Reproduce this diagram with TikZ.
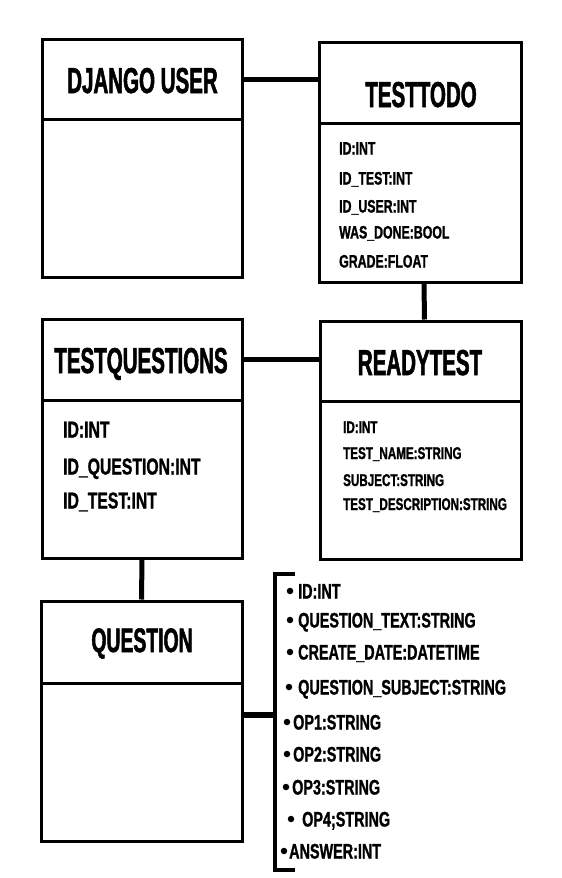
\documentclass[tikz,border=0pt]{standalone}
\usepackage{fontspec}
\newfontfamily\titlefont{Liberation Sans}[FakeStretch=0.57,FakeBold=1.5]
\newfontfamily\attrfont{Liberation Sans}[FakeStretch=0.685,FakeBold=1.2]
\tikzset{
  box/.style={draw=black, line width=3pt, rectangle, inner sep=0pt, minimum width=200pt},
  hdr/.style={box, minimum height=81pt},
  bdy/.style={box},
  ttl/.style={anchor=base, inner sep=0pt, font=\titlefont\bfseries\fontsize{36}{36}\selectfont},
  attrA/.style={anchor=base west, inner sep=0pt, font=\attrfont\bfseries\fontsize{18}{18}\selectfont},
  attrB/.style={anchor=base west, inner sep=0pt, font=\attrfont\bfseries\fontsize{23}{23}\selectfont},
  attrC/.style={anchor=base west, inner sep=0pt, font=\attrfont\bfseries\fontsize{17}{17}\selectfont},
  item/.style={anchor=base west, inner sep=0pt, font=\attrfont\bfseries\fontsize{21}{21}\selectfont},
  dot/.style={circle, fill=black, inner sep=0pt, minimum size=6.5pt},
  link/.style={line width=5pt, draw=black},
}
\begin{document}
\begin{tikzpicture}[x=1pt,y=-1pt]
\useasboundingbox (0,0) rectangle (562,878);
% Django user
\node[hdr, minimum height=80pt] (djh) at (142,79) {};
\node[bdy, minimum height=158pt] (djb) at (142,198) {};
\node[ttl] (djt) at (142.5,93) {DJANGO USER};
% TestTodo
\node[hdr, minimum width=202pt] (tth) at (420,82.5) {};
\node[bdy, minimum width=202pt, minimum height=159pt] (ttb) at (420,202.5) {};
\node[ttl] (ttt) at (421,107) {TESTTODO};
\node[attrA] (tt1) at (339,154.5) {ID:INT};
\node[attrA] (tt2) at (339,184.5) {ID\_TEST:INT};
\node[attrA] (tt3) at (339,212.5) {ID\_USER:INT};
\node[attrA] (tt4) at (339,238.5) {WAS\_DONE:BOOL};
\node[attrA] (tt5) at (339,267.5) {GRADE:FLOAT};
% TestQuestions
\node[hdr] (tqh) at (142,359.5) {};
\node[bdy, minimum height=158pt] (tqb) at (142,479) {};
\node[ttl] (tqt) at (141,373) {TESTQUESTIONS};
\node[attrB] (tq1) at (63,437.5) {ID:INT};
\node[attrB] (tq2) at (63,474.5) {ID\_QUESTION:INT};
\node[attrB] (tq3) at (63,508.5) {ID\_TEST:INT};
% ReadyTest
\node[hdr, minimum width=201pt, minimum height=80pt] (rth) at (420.5,361) {};
\node[bdy, minimum width=201pt, minimum height=158pt] (rtb) at (420.5,480) {};
\node[ttl] (rtt) at (420,375) {READYTEST};
\node[attrC] (rt1) at (343,433) {ID:INT};
\node[attrC] (rt2) at (343,459) {TEST\_NAME:STRING};
\node[attrC] (rt3) at (343,486) {SUBJECT:STRING};
\node[attrC] (rt4) at (343,510) {TEST\_DESCRIPTION:STRING};
% Question
\node[hdr, minimum width=201pt, minimum height=82pt] (qh) at (141.5,642) {};
\node[bdy, minimum width=201pt, minimum height=158pt] (qb) at (141.5,762) {};
\node[ttl, font=\titlefont\bfseries\fontsize{34}{34}\selectfont] (qt) at (142,652) {QUESTION};
% connectors
\draw[link] (djh.east) -- (djh.east -| tth.west);
\draw[link] (tqh.east) -- (tqh.east -| rth.west);
\draw[link] ([xshift=4pt]ttb.south) -- ([xshift=4pt]rth.north);
\draw[link] (tqb.south) -- (qh.north);
% bracket
\coordinate (brt) at (275,573.5);
\coordinate (brb) at (275,870);
\coordinate (brm) at (275,715);
\coordinate (brt2) at (295,573.5);
\coordinate (brb2) at (295,870);
\draw[line width=4pt] (brt2) -- (brt) -- (brb) -- (brb2);
\draw[line width=6pt] (qb.east |- brm) -- (brm);
% items
\node[dot] (b1) at (290,591) {};
\node[item] (i1) at (298,598.5) {ID:INT};
\node[dot] (b2) at (290,620) {};
\node[item] (i2) at (298,627.5) {QUESTION\_TEXT:STRING};
\node[dot] (b3) at (290,652) {};
\node[item] (i3) at (298,659.5) {CREATE\_DATE:DATETIME};
\node[dot] (b4) at (289,687) {};
\node[item] (i4) at (298,694.5) {QUESTION\_SUBJECT:STRING};
\node[dot] (b5) at (287,722) {};
\node[item] (i5) at (293,729.5) {OP1:STRING};
\node[dot] (b6) at (287,754) {};
\node[item] (i6) at (293,761.5) {OP2:STRING};
\node[dot] (b7) at (286,787) {};
\node[item] (i7) at (292,794.5) {OP3:STRING};
\node[dot] (b8) at (291,819) {};
\node[item] (i8) at (302,826.5) {OP4;STRING};
\node[dot] (b9) at (284,851) {};
\node[item] (i9) at (289,858.5) {ANSWER:INT};
\end{tikzpicture}
\end{document}
